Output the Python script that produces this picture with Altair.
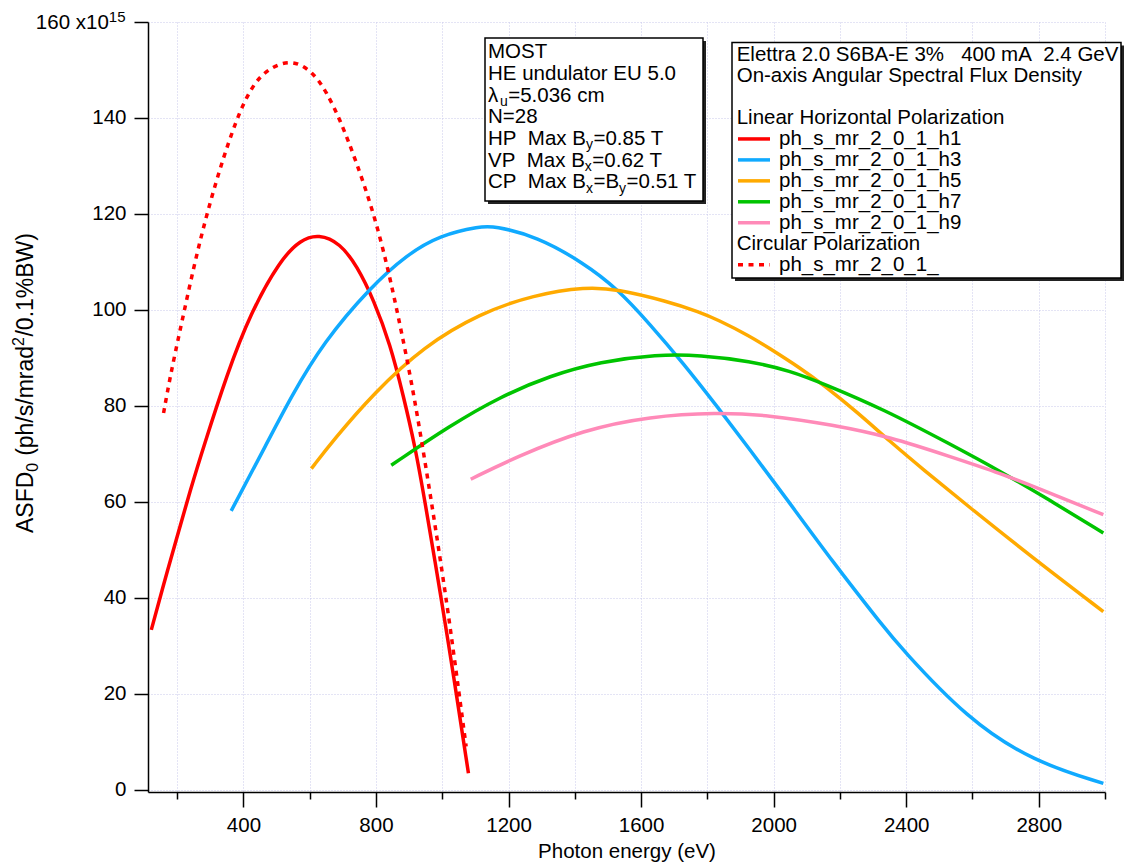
import altair as alt
import pandas as pd

# ---------------- data ----------------
h1_x = [122, 160, 195, 240, 280, 350, 421, 511, 572, 627, 692, 743, 793, 843, 883, 918, 946, 999, 1034, 1079]
h1_y = [33.3, 43.0, 51.5, 62.5, 71.5, 86.5, 99.3, 110.4, 114.6, 115.8, 113.9, 109.1, 102.1, 92.8, 82.0, 71.5, 60.8, 39.0, 23.8, 3.4]

h3_x = [363, 471, 543, 642, 783, 893, 994, 1115, 1155, 1286, 1426, 1527, 1627, 1728, 1829, 1929, 2035, 2181, 2331, 2382, 2583, 2784, 2995]
h3_y = [58.1, 72.2, 81.8, 93.3, 104.7, 111.5, 115.6, 117.4, 117.5, 115.3, 109.8, 104.5, 97.0, 88.8, 79.9, 70.8, 61.0, 47.2, 34.0, 29.7, 14.8, 5.8, 1.3]

h5_x = [605, 672, 793, 944, 1115, 1275, 1436, 1527, 1678, 1778, 1829, 1929, 1980, 2080, 2151, 2250, 2352, 2450, 2583, 2784, 2995]
h5_y = [66.9, 72.9, 82.6, 92.4, 99.3, 103.1, 104.8, 104.3, 101.8, 99.5, 98.0, 94.5, 92.3, 87.9, 84.3, 78.8, 72.5, 66.8, 59.3, 48.2, 37.1]

h7_x = [846, 1024, 1175, 1326, 1477, 1648, 1778, 1929, 2050, 2151, 2331, 2533, 2683, 2834, 2995]
h7_y = [67.6, 75.9, 81.9, 86.3, 89.2, 90.7, 90.6, 89.3, 87.3, 84.6, 79.3, 72.0, 66.4, 60.3, 53.5]

h9_x = [1086, 1225, 1426, 1627, 1829, 1980, 2181, 2352, 2533, 2683, 2834, 2995]
h9_y = [64.7, 69.4, 75.0, 77.8, 78.6, 78.1, 76.0, 73.5, 69.4, 66.0, 61.8, 57.3]

cp_x = [159, 180, 209, 250, 290, 340, 390, 430, 471, 546, 612, 650, 692, 740, 793, 833, 863, 893, 924, 964, 994, 1024, 1072]
cp_y = [78.5, 86.5, 95.8, 109.0, 120.2, 132.0, 141.7, 147.0, 150.1, 152.4, 149.4, 145.5, 139.6, 131.0, 120.2, 109.5, 100.0, 90.0, 78.5, 61.5, 48.0, 34.0, 9.0]

series_names = ["ph_s_mr_2_0_1_h1", "ph_s_mr_2_0_1_h3", "ph_s_mr_2_0_1_h5",
                "ph_s_mr_2_0_1_h7", "ph_s_mr_2_0_1_h9"]
cp_name = "ph_s_mr_2_0_1_"
series_colors = ["#ff0000", "#10aaff", "#ffaa00", "#00c400", "#ff8ab8"]
cp_color = "#ff0000"

x_ticks = list(range(200, 3001, 200))
y_ticks = list(range(0, 161, 20))

# text segments: "n" normal, "sub" subscript, "sup" superscript, "gap" blank space
most_lines = [
    [("MOST", "n")],
    [("HE undulator EU 5.0", "n")],
    [("λ", "n"), ("u", "sub"), ("=5.036 cm", "n")],
    [("N=28", "n")],
    [("HP\u00a0 Max B", "n"), ("y", "sub"), ("=0.85 T", "n")],
    [("VP\u00a0 Max B", "n"), ("x", "sub"), ("=0.62 T", "n")],
    [("CP\u00a0 Max B", "n"), ("x", "sub"), ("=B", "n"), ("y", "sub"), ("=0.51 T", "n")],
]
legend_header = ["Elettra 2.0 S6BA-E 3%\u00a0\u00a0 400 mA\u00a0 2.4 GeV",
                 "On-axis Angular Spectral Flux Density"]
legend_group1 = "Linear Horizontal Polarization"
legend_group2 = "Circular Polarization"
y_title = [("ASFD", "n"), ("0", "sub"), (" ", "gap"), ("(ph/s/mrad", "n"), ("2", "sup"), ("/0.1%BW)", "n")]
x_title = "Photon energy (eV)"
y_top_label = "160 x10"
y_top_exp = "15"

# ---------------- layout helpers ----------------
FONT = "Liberation Sans"
FS = 20.5
SUBFS = 14
L, T = 148, 22
PW, PH = 957, 770

AW = {' ': 278, '\u00a0': 278, '!': 278, '%': 889, '(': 333, ')': 333, '-': 333, '.': 278, '/': 278,
      '=': 584, '_': 556, 'λ': 580,
      'A': 667, 'B': 667, 'C': 722, 'D': 722, 'E': 667, 'F': 611, 'G': 778, 'H': 722, 'I': 278,
      'L': 556, 'M': 833, 'N': 722, 'O': 778, 'P': 667, 'S': 667, 'T': 611, 'U': 722, 'V': 667,
      'W': 944, 'X': 667,
      'a': 556, 'b': 556, 'c': 500, 'd': 556, 'e': 556, 'f': 278, 'g': 556, 'h': 556, 'i': 222,
      'k': 500, 'l': 222, 'm': 833, 'n': 556, 'o': 556, 'p': 556, 'r': 333, 's': 500, 't': 278,
      'u': 556, 'v': 500, 'x': 500, 'y': 500, 'z': 500}
for d in "0123456789":
    AW[d] = 556


def tw(s, size):
    return sum(AW.get(c, 556) for c in s) * size / 1000.0


one = pd.DataFrame({"k": [0]})


def txt(x, y, s, size=FS, angle=0, align="left", baseline="alphabetic"):
    return alt.Chart(one).mark_text(
        text=s, font=FONT, fontSize=size, color="black", align=align,
        baseline=baseline, angle=angle
    ).encode(x=alt.value(x - L), y=alt.value(y - T))


def rich(x, y, segs, size=FS, sub=SUBFS, vertical=False):
    out = []
    pos = 0.0
    for s, kind in segs:
        fs = sub if kind in ("sub", "sup") else size
        if kind != "gap":
            off = 0.0
            if kind == "sub":
                off = size * 0.22
            elif kind == "sup":
                off = -size * 0.40
            if vertical:
                out.append(txt(x + off, y - pos, s, fs, angle=270))
            else:
                out.append(txt(x + pos, y + off, s, fs))
        pos += tw(s, fs) + (0.5 if kind in ("sub", "sup") else 0.0)
    return out


def box(l, t, r, b):
    shadow = alt.Chart(one).mark_rect(fill="#222222").encode(
        x=alt.value(l - L + 3), x2=alt.value(r - L + 3),
        y=alt.value(t - T + 3), y2=alt.value(b - T + 3))
    face = alt.Chart(one).mark_rect(fill="white", stroke="black", strokeWidth=1.5).encode(
        x=alt.value(l - L), x2=alt.value(r - L),
        y=alt.value(t - T), y2=alt.value(b - T))
    return [shadow, face]


def sample(x1, x2, y, color, dash=None):
    kw = dict(color=color, strokeWidth=3.5, strokeCap="butt")
    if dash:
        kw["strokeDash"] = dash
    return alt.Chart(one).mark_rule(**kw).encode(
        x=alt.value(x1 - L), x2=alt.value(x2 - L), y=alt.value(y - T))


# ---------------- curves ----------------
x_scale = alt.Scale(domain=[112, 3000], nice=False, zero=False)
y_scale = alt.Scale(domain=[-0.5, 160], nice=False, zero=False)

x_axis = alt.Axis(
    values=x_ticks, format="d",
    labelExpr="datum.value % 400 == 0 ? datum.label : ''",
    tickSize={"condition": {"test": "datum.value % 400 == 0", "value": 15}, "value": 7},
    labelPadding=8, labelFlush=False, labelOverlap=False,
    title=x_title, titleY=65, titleBaseline="alphabetic",
)
exp_w = tw(y_top_exp, 15) + 1
y_axis = alt.Axis(
    values=y_ticks, format="d",
    labelExpr="datum.value == 160 ? '%s' : datum.label" % y_top_label,
    labelPadding={"condition": {"test": "datum.value == 160", "value": 8 + exp_w}, "value": 8},
    tickSize=14, labelFlush=False, labelOverlap=False, title=None,
)

xs = [h1_x, h3_x, h5_x, h7_x, h9_x]
ys = [h1_y, h3_y, h5_y, h7_y, h9_y]

layers = []
for i, (name, col) in enumerate(zip(series_names, series_colors)):
    df = pd.DataFrame({"energy": xs[i], "flux": ys[i]})
    layers.append(alt.Chart(df).mark_line(
        color=col, strokeWidth=3.5, interpolate="basis", strokeCap="butt"
    ).encode(x=alt.X("energy:Q", scale=x_scale, axis=x_axis),
             y=alt.Y("flux:Q", scale=y_scale, axis=y_axis)))

cp_df = pd.DataFrame({"energy": cp_x, "flux": cp_y})
layers.append(alt.Chart(cp_df).mark_line(
    color=cp_color, strokeWidth=3.5, interpolate="basis", strokeDash=[5, 5.5], strokeCap="butt"
).encode(x=alt.X("energy:Q", scale=x_scale, axis=x_axis),
         y=alt.Y("flux:Q", scale=y_scale, axis=y_axis)))

# superscript of the y-axis multiplier
layers.append(txt(L - 14 - 8 - exp_w + 0.5, 21.7, y_top_exp, 15))

# y axis title (rotated, with sub/superscript)
layers += rich(33.3, 533, y_title, size=23, sub=16, vertical=True)

# MOST box
layers += box(485, 38, 703, 201)
for k, segs in enumerate(most_lines):
    layers += rich(488, 58.3 + k * 21.67, segs)

# legend box
layers += box(732, 42.5, 1121, 278)
LB0, LSP = 61.45, 20.95
layers.append(txt(736.7, LB0, legend_header[0]))
layers.append(txt(736.7, LB0 + LSP, legend_header[1]))
layers.append(txt(736.7, LB0 + 3 * LSP, legend_group1))
for j, (name, col) in enumerate(zip(series_names, series_colors)):
    yb = LB0 + (4 + j) * LSP
    layers.append(sample(738, 770, yb - 6.3, col))
    layers.append(txt(779, yb, name))
layers.append(txt(736.7, LB0 + 9 * LSP, legend_group2))
yb = LB0 + 10 * LSP
layers.append(sample(738, 770, yb - 6.3, cp_color, dash=[5, 5.5]))
layers.append(txt(779, yb, cp_name))

chart = alt.layer(*layers).properties(
    width=PW, height=PH,
    autosize=alt.AutoSizeParams(type="none"),
    padding={"left": L, "top": T, "right": 1129 - L - PW, "bottom": 866 - T - PH},
    background="white",
).configure_view(stroke=None).configure_axis(
    domainColor="black", domainWidth=1.5, tickColor="black", tickWidth=1.5,
    labelFont=FONT, labelFontSize=FS, labelColor="black",
    titleFont=FONT, titleFontSize=FS, titleFontWeight="normal", titleColor="black",
    grid=True, gridColor="#c9c9ea", gridDash=[1, 2], gridWidth=1,
)

chart.save("out.html", embed_options={"renderer": "svg", "actions": False})
